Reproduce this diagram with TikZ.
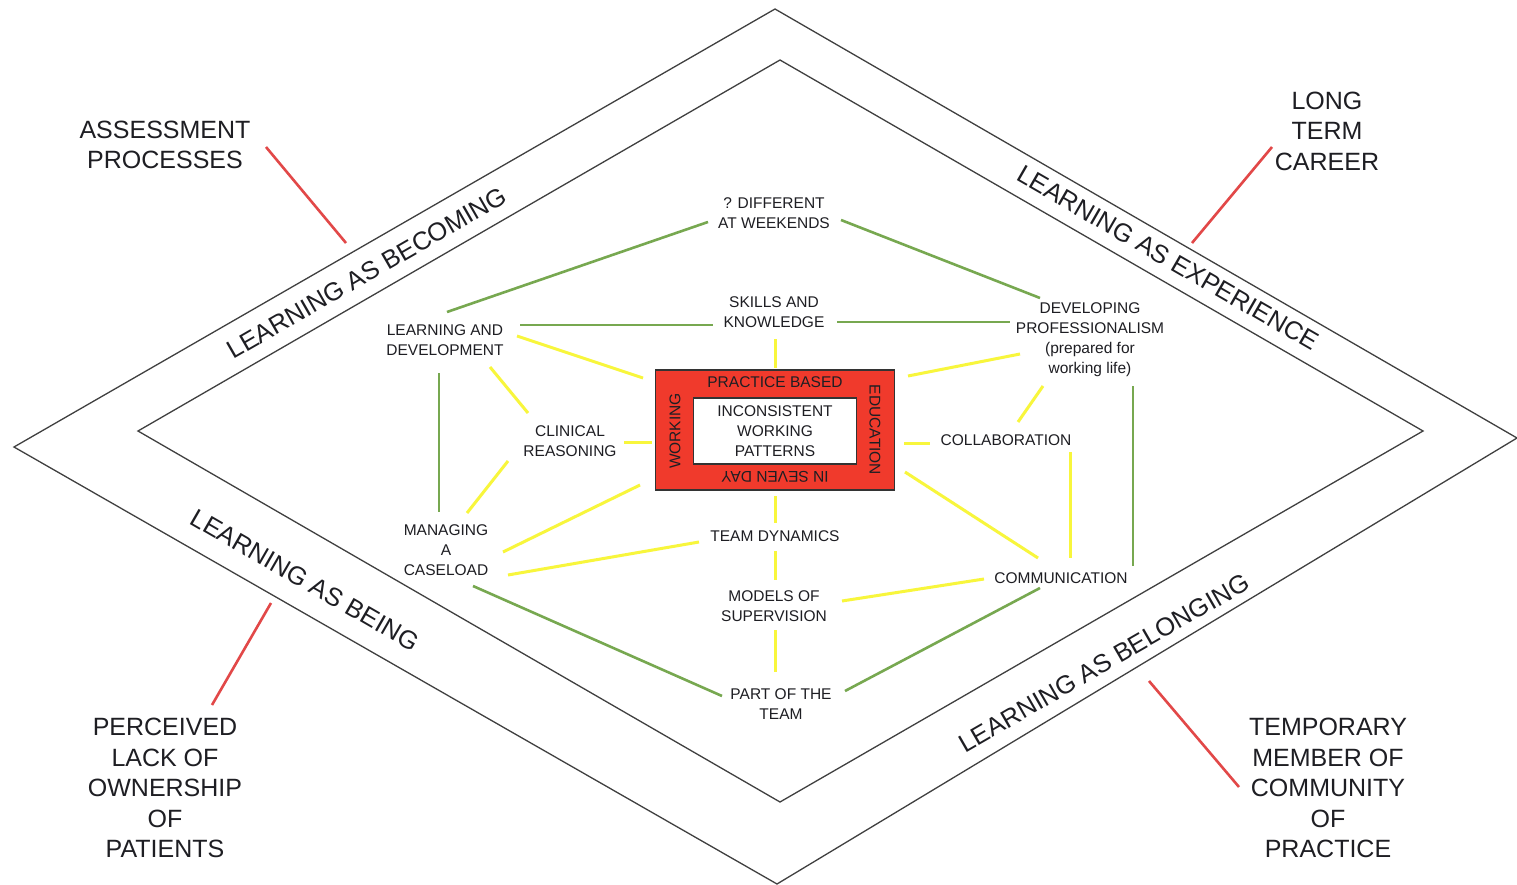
\documentclass[tikz,border=0pt]{standalone}
\usepackage{fontspec}
\setmainfont{Liberation Sans}
\definecolor{lgreen}{RGB}{119,168,80}
\definecolor{lyellow}{RGB}{248,246,60}
\definecolor{lred}{RGB}{226,72,72}
\definecolor{boxred}{RGB}{240,58,44}
\definecolor{ink}{RGB}{30,30,35}
\begin{document}
\begin{tikzpicture}[x=1pt,y=-1pt,
  frame/.style={draw=black!75, line width=1.3pt},
  ttext/.style={font=\fontsize{15.5}{20}\selectfont, align=center, inner sep=0pt, text=ink},
  ctext/.style={font=\fontsize{25}{30.5}\selectfont, align=center, inner sep=0pt, text=ink},
  btext/.style={font=\fontsize{25.5}{30}\selectfont, inner sep=0pt, text=ink},
  gline/.style={draw=lgreen, line width=2.6pt},
  yline/.style={draw=lyellow, line width=3pt},
  rline/.style={draw=lred, line width=2.6pt},
  redbox/.style={draw=black!80, line width=1.3pt, fill=boxred, minimum width=239pt, minimum height=120pt, inner sep=0pt},
  whitebox/.style={draw=black!80, line width=1.3pt, fill=white, minimum width=163pt, minimum height=66pt}
]
\useasboundingbox (0,0) rectangle (1517,885);
\fill[white] (0,0) rectangle (1517,885);

% diamonds
\coordinate (oT) at (775,9);
\coordinate (oR) at (1517,438);
\coordinate (oB) at (777,884);
\coordinate (oL) at (14,447);
\coordinate (iT) at (780,60);
\coordinate (iR) at (1423,431);
\coordinate (iB) at (780,802);
\coordinate (iL) at (138,431);
\draw[frame] (oT) -- (oR) -- (oB) -- (oL) -- cycle;
\draw[frame] (iT) -- (iR) -- (iB) -- (iL) -- cycle;

% band labels
\node[btext, rotate=30] (lbec) at (367,273) {LEARNING AS BECOMING};
\node[btext, rotate=-30] (lexp) at (1168,258) {LEARNING AS EXPERIENCE};
\node[btext, rotate=-30] (lbei) at (305,580) {LEARNING AS BEING};
\node[btext, rotate=30] (lbel) at (1104,663) {LEARNING AS BELONGING};

% corner labels
\node[ctext] (assess) at (165,145) {ASSESSMENT\\PROCESSES};
\node[ctext] (career) at (1327,131) {LONG\\TERM\\CAREER};
\node[ctext] (perc) at (165,788) {PERCEIVED\\LACK OF\\OWNERSHIP\\OF\\PATIENTS};
\node[ctext] (temp) at (1328,788) {TEMPORARY\\MEMBER OF\\COMMUNITY\\OF\\PRACTICE};

\coordinate (ra1) at (266,147); \coordinate (ra2) at (346,243);
\coordinate (rc1) at (1272,147); \coordinate (rc2) at (1192,243);
\coordinate (rp1) at (271,603); \coordinate (rp2) at (212,705);
\coordinate (rt1) at (1149,681); \coordinate (rt2) at (1239,787);
\draw[rline] (ra1) -- (ra2);
\draw[rline] (rc1) -- (rc2);
\draw[rline] (rp1) -- (rp2);
\draw[rline] (rt1) -- (rt2);

% central box
\node[redbox] (box) at (775,430) {};
\node[whitebox, ttext, inner sep=0pt] (inc) at (775,431) {INCONSISTENT\\WORKING\\PATTERNS};
\node[ttext] (pb) at (775,382) {PRACTICE BASED};
\node[ttext, rotate=180] (isd) at (775,477) {IN SEVEN DAY};
\node[ttext, rotate=90] (wk) at (675,431) {WORKING};
\node[ttext, rotate=-90] (ed) at (875,430) {EDUCATION};

% theme nodes
\node[ttext] (diff) at (774,213) {? DIFFERENT\\AT WEEKENDS};
\node[ttext] (skills) at (774,312) {SKILLS AND\\KNOWLEDGE};
\node[ttext] (ld) at (445,340) {LEARNING AND\\DEVELOPMENT};
\node[ttext] (dp) at (1090,340) {DEVELOPING\\PROFESSIONALISM\\(prepared for\\working life)};
\node[ttext] (cr) at (570,441) {CLINICAL\\REASONING};
\node[ttext] (collab) at (1006,440) {COLLABORATION};
\node[ttext] (mc) at (446,550) {MANAGING\\A\\CASELOAD};
\node[ttext] (td) at (775,536) {TEAM DYNAMICS};
\node[ttext] (ms) at (774,606) {MODELS OF\\SUPERVISION};
\node[ttext] (comm) at (1061,578) {COMMUNICATION};
\node[ttext] (pt) at (781,704) {PART OF THE\\TEAM};

% green connectors
\draw[gline] ([shift={(2,-28)}]ld.center) -- ([shift={(-66,9)}]diff.center);
\draw[gline] ([shift={(67,7)}]diff.center) -- ([shift={(-50,-42)}]dp.center);
\draw[gline] ([shift={(75,-15)}]ld.center) -- ([shift={(-61,13)}]skills.center);
\draw[gline] ([shift={(63,10)}]skills.center) -- ([shift={(-80,-18)}]dp.center);
\draw[gline] ([shift={(-6,33)}]ld.center) -- ([shift={(-7,-38)}]mc.center);
\draw[gline] ([shift={(43,46)}]dp.center) -- ([shift={(72,-12)}]comm.center);
\draw[gline] ([shift={(27,36)}]mc.center) -- ([shift={(-59,-8)}]pt.center);
\draw[gline] ([shift={(64,-13)}]pt.center) -- ([shift={(-21,10)}]comm.center);

% yellow connectors
\draw[yline] ([shift={(1,27)}]skills.center) -- ([shift={(0,-62)}]box.center);
\draw[yline] ([shift={(72,-4)}]ld.center) -- ([shift={(-132,-52)}]box.center);
\draw[yline] ([shift={(45,27)}]ld.center) -- ([shift={(-42,-28)}]cr.center);
\draw[yline] ([shift={(54,1)}]cr.center) -- ([shift={(-123,12)}]box.center);
\draw[yline] ([shift={(-62,20)}]cr.center) -- ([shift={(21,-37)}]mc.center);
\draw[yline] ([shift={(-135,55)}]box.center) -- ([shift={(57,2)}]mc.center);
\draw[yline] ([shift={(0,66)}]box.center) -- ([shift={(0,-13)}]td.center);
\draw[yline] ([shift={(-76,6)}]td.center) -- ([shift={(62,25)}]mc.center);
\draw[yline] ([shift={(0,15)}]td.center) -- ([shift={(1,-26)}]ms.center);
\draw[yline] ([shift={(1,24)}]ms.center) -- ([shift={(-6,-32)}]pt.center);
\draw[yline] ([shift={(68,-5)}]ms.center) -- ([shift={(-77,1)}]comm.center);
\draw[yline] ([shift={(-70,14)}]dp.center) -- ([shift={(133,-54)}]box.center);
\draw[yline] ([shift={(-47,46)}]dp.center) -- ([shift={(12,-18)}]collab.center);
\draw[yline] ([shift={(129,13)}]box.center) -- ([shift={(-76,3)}]collab.center);
\draw[yline] ([shift={(64,12)}]collab.center) -- ([shift={(9,-20)}]comm.center);
\draw[yline] ([shift={(130,42)}]box.center) -- ([shift={(-23,-20)}]comm.center);
\end{tikzpicture}
\end{document}
